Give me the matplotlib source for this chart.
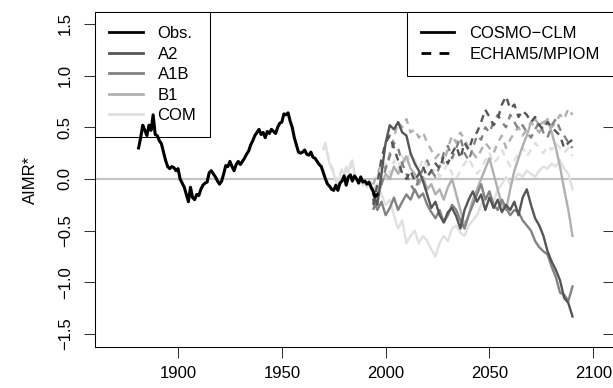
import numpy as np
import matplotlib
matplotlib.use("Agg")
import matplotlib.pyplot as plt
from matplotlib.lines import Line2D

plt.rcParams['font.family'] = ['Liberation Sans', 'DejaVu Sans']

# ---------------- data ----------------
obs_years = list(range(1881, 1997))
obs_vals = [0.30, 0.40, 0.52, 0.47, 0.42, 0.52, 0.47, 0.62, 0.43, 0.42,
            0.37, 0.34, 0.26, 0.18, 0.12, 0.10, 0.12, 0.11, 0.08, 0.10,
            0.00, -0.04, -0.08, -0.15, -0.22, -0.08, -0.18, -0.20, -0.15, -0.16,
            -0.10, -0.06, -0.04, -0.03, 0.06, 0.08, 0.05, 0.02, -0.02, -0.05,
            -0.02, 0.05, 0.13, 0.12, 0.17, 0.12, 0.08, 0.14, 0.17, 0.14,
            0.17, 0.20, 0.24, 0.27, 0.33, 0.37, 0.42, 0.45, 0.48, 0.43,
            0.45, 0.40, 0.46, 0.44, 0.48, 0.46, 0.44, 0.50, 0.54, 0.55,
            0.63, 0.62, 0.64, 0.56, 0.50, 0.40, 0.33, 0.26, 0.25, 0.26,
            0.28, 0.24, 0.23, 0.26, 0.21, 0.20, 0.17, 0.14, 0.12, 0.06,
            0.00, -0.05, -0.07, -0.10, -0.11, -0.06, -0.11, -0.04, -0.02, 0.03,
            -0.06, 0.02, 0.04, -0.02, 0.03, 0.00, -0.04, 0.02, -0.03, -0.02,
            -0.05, -0.03, -0.08, -0.12, -0.17, -0.15]

c20_years = list(range(1970, 1994))
c20_cosmo = [0.30, 0.35, 0.22, 0.15, 0.10, 0.05, -0.02, -0.06, 0.02, 0.08,
             0.05, 0.12, 0.06, 0.15, 0.18, 0.05, 0.00, -0.04, 0.02, -0.06,
             -0.03, -0.08, -0.05, -0.10]
c20_echam = [0.28, 0.33, 0.25, 0.18, 0.12, 0.08, 0.02, -0.03, 0.05, 0.10,
             0.04, 0.08, 0.12, 0.10, 0.14, 0.02, -0.04, 0.00, -0.05, -0.08,
             -0.02, -0.06, -0.08, -0.04]

scen_years = list(range(1994, 2091, 2))

a2_cosmo = [-0.15, -0.25, 0.05, 0.35, 0.52, 0.48, 0.55, 0.45, 0.42, 0.25,
            0.15, 0.08, -0.02, -0.15, -0.28, -0.22, -0.35, -0.42, -0.32, -0.28,
            -0.36, -0.48, -0.30, -0.20, -0.12, -0.22, -0.15, -0.30, -0.18, -0.28,
            -0.20, -0.32, -0.25, -0.30, -0.22, -0.35, -0.18, -0.10, -0.25, -0.38,
            -0.45, -0.55, -0.70, -0.80, -0.88, -0.98, -1.15, -1.20, -1.33]
a1b_cosmo = [-0.20, -0.30, -0.22, -0.35, -0.28, -0.18, -0.30, -0.22, -0.15, -0.20,
             -0.10, -0.18, -0.14, -0.25, -0.32, -0.38, -0.30, -0.42, -0.35, -0.25,
             -0.30, -0.40, -0.48, -0.35, -0.25, -0.15, -0.05, -0.20, -0.12, -0.25,
             -0.30, -0.20, -0.28, -0.35, -0.30, -0.32, -0.40, -0.45, -0.50, -0.60,
             -0.66, -0.70, -0.73, -0.85, -0.95, -1.10, -1.12, -1.18, -1.04]
b1_cosmo = [-0.10, -0.20, -0.05, 0.05, 0.00, 0.12, 0.05, 0.15, 0.22, 0.10,
            0.05, -0.05, 0.02, -0.10, -0.05, -0.15, -0.10, -0.20, -0.08, 0.00,
            -0.15, -0.30, -0.45, -0.35, -0.20, -0.10, 0.00, 0.10, 0.20, 0.05,
            -0.10, -0.25, -0.30, -0.10, 0.08, 0.20, 0.32, 0.42, 0.55, 0.58,
            0.52, 0.55, 0.57, 0.45, 0.30, 0.12, -0.10, -0.30, -0.55]
com_cosmo = [-0.10, -0.05, -0.15, -0.25, -0.20, -0.35, -0.48, -0.40, -0.62, -0.55,
             -0.50, -0.62, -0.55, -0.60, -0.68, -0.75, -0.62, -0.55, -0.60, -0.48,
             -0.45, -0.52, -0.55, -0.45, -0.40, -0.35, -0.25, -0.20, -0.15, -0.22,
             -0.10, -0.05, 0.02, -0.05, 0.00, 0.05, 0.02, 0.08, 0.05, 0.02,
             0.08, 0.12, 0.10, 0.15, 0.12, 0.18, 0.10, 0.05, -0.10]

a2_echam = [-0.25, -0.05, 0.20, 0.35, 0.42, 0.30, 0.18, 0.05, 0.00, 0.08,
            -0.02, 0.05, 0.12, 0.02, 0.08, 0.15, 0.10, 0.22, 0.15, 0.25,
            0.32, 0.20, 0.35, 0.28, 0.40, 0.45, 0.55, 0.67, 0.60, 0.52,
            0.58, 0.72, 0.80, 0.68, 0.72, 0.60, 0.66, 0.62, 0.55, 0.60,
            0.52, 0.48, 0.55, 0.50, 0.46, 0.42, 0.30, 0.35, 0.38]
a1b_echam = [-0.30, -0.15, -0.05, 0.10, 0.22, 0.35, 0.30, 0.15, 0.05, -0.05,
             -0.12, 0.00, 0.10, 0.18, 0.08, 0.02, 0.12, 0.25, 0.32, 0.20,
             0.30, 0.40, 0.25, 0.18, 0.30, 0.42, 0.38, 0.50, 0.45, 0.55,
             0.62, 0.55, 0.50, 0.62, 0.55, 0.48, 0.52, 0.45, 0.40, 0.48,
             0.55, 0.45, 0.40, 0.52, 0.58, 0.48, 0.42, 0.35, 0.30]
b1_echam = [-0.05, 0.05, 0.15, 0.10, 0.25, 0.40, 0.55, 0.50, 0.58, 0.45,
            0.48, 0.40, 0.45, 0.35, 0.28, 0.20, 0.25, 0.15, 0.30, 0.42,
            0.35, 0.45, 0.38, 0.30, 0.25, 0.20, 0.28, 0.35, 0.30, 0.25,
            0.35, 0.42, 0.30, 0.38, 0.45, 0.50, 0.42, 0.48, 0.55, 0.50,
            0.45, 0.52, 0.58, 0.50, 0.55, 0.62, 0.58, 0.68, 0.62]
com_echam = [-0.05, 0.02, 0.10, 0.15, 0.05, 0.18, 0.10, 0.22, 0.15, 0.25,
             0.18, 0.10, 0.20, 0.12, 0.05, 0.10, 0.02, 0.08, 0.15, 0.05,
             0.00, 0.08, 0.15, 0.20, 0.12, 0.05, 0.10, 0.18, 0.25, 0.15,
             0.20, 0.28, 0.20, 0.12, 0.18, 0.25, 0.30, 0.22, 0.28, 0.35,
             0.30, 0.25, 0.32, 0.28, 0.35, 0.30, 0.25, 0.30, 0.22]

legend1_labels = ["Obs.", "A2", "A1B", "B1", "COM"]
legend2_labels = ["COSMO\u2212CLM", "ECHAM5/MPIOM"]
x_ticks = [1900, 1950, 2000, 2050, 2100]
y_ticks = [-1.5, -1.0, -0.5, 0.0, 0.5, 1.0, 1.5]

# ---------------- style ----------------
col_obs = "black"
col_a2 = "#555555"
col_a1b = "#828282"
col_b1 = "#b0b0b0"
col_com = "#e0e0e0"
lw_m = 1.7
dash = (0, (3, 2.5))

fig = plt.figure(figsize=(6.13, 3.88), dpi=100)
ax = fig.add_axes([95 / 613, 1 - 347 / 388, (614 - 95) / 613, (347 - 12) / 388])

ax.axhline(0, color="#c4c4c4", lw=1.6, zorder=1)

# COM incl. 20th-century part
ax.plot(c20_years + scen_years, c20_echam + com_echam, color=col_com, lw=lw_m, ls=dash, zorder=2)
ax.plot(c20_years + scen_years, c20_cosmo + com_cosmo, color=col_com, lw=lw_m, zorder=2)
ax.plot(scen_years, b1_echam, color=col_b1, lw=lw_m, ls=dash, zorder=3)
ax.plot(scen_years, b1_cosmo, color=col_b1, lw=lw_m, zorder=3)
ax.plot(scen_years, a1b_echam, color=col_a1b, lw=lw_m, ls=dash, zorder=4)
ax.plot(scen_years, a1b_cosmo, color=col_a1b, lw=lw_m, zorder=4)
ax.plot(scen_years, a2_echam, color=col_a2, lw=lw_m, ls=dash, zorder=5)
ax.plot(scen_years, a2_cosmo, color=col_a2, lw=lw_m, zorder=5)
ax.plot(obs_years, obs_vals, color=col_obs, lw=2.2, zorder=6)

ax.set_xlim(1860, 2110)
ax.set_ylim(-1.625, 1.615)
ax.set_xticks(x_ticks)
ax.set_yticks(y_ticks)
ax.set_xticklabels([str(v) for v in x_ticks])
ax.set_yticklabels([f"{v:.1f}".replace("-", "\u2212") for v in y_ticks],
                   rotation=90, va="center")
ax.tick_params(axis="both", direction="out", length=8, width=0.75,
               labelsize=12, color="#333333")
ax.tick_params(axis="x", pad=6)
ax.tick_params(axis="y", pad=8)
for s in ax.spines.values():
    s.set_linewidth(0.75)

sec = ax.secondary_yaxis("right")
sec.set_yticks(y_ticks)
sec.tick_params(direction="in", length=8, width=0.75, labelright=False, color="#333333")

ax.set_ylabel("AIMR*", fontsize=12)
ax.yaxis.set_label_coords(-0.11, 0.5)

h1 = [Line2D([], [], color=c, lw=2) for c in [col_obs, col_a2, col_a1b, col_b1, col_com]]
leg1 = ax.legend(h1, legend1_labels, loc="upper left", bbox_to_anchor=(0, 1),
                 borderaxespad=0, fancybox=False, edgecolor="black", framealpha=1,
                 fontsize=12, handlelength=2.0, handletextpad=0.9,
                 borderpad=0.85, labelspacing=0.33)
leg1.get_frame().set_linewidth(0.75)
ax.add_artist(leg1)

h2 = [Line2D([], [], color="black", lw=2),
      Line2D([], [], color="black", lw=2, ls=(0, (3.5, 3)))]
leg2 = ax.legend(h2, legend2_labels, loc="upper right", bbox_to_anchor=(1, 1),
                 borderaxespad=0, fancybox=False, edgecolor="black", framealpha=1,
                 fontsize=12, handlelength=2.0, handletextpad=0.9,
                 borderpad=0.85, labelspacing=0.33)
leg2.get_frame().set_linewidth(0.75)

fig.savefig("out.png", dpi=100)
